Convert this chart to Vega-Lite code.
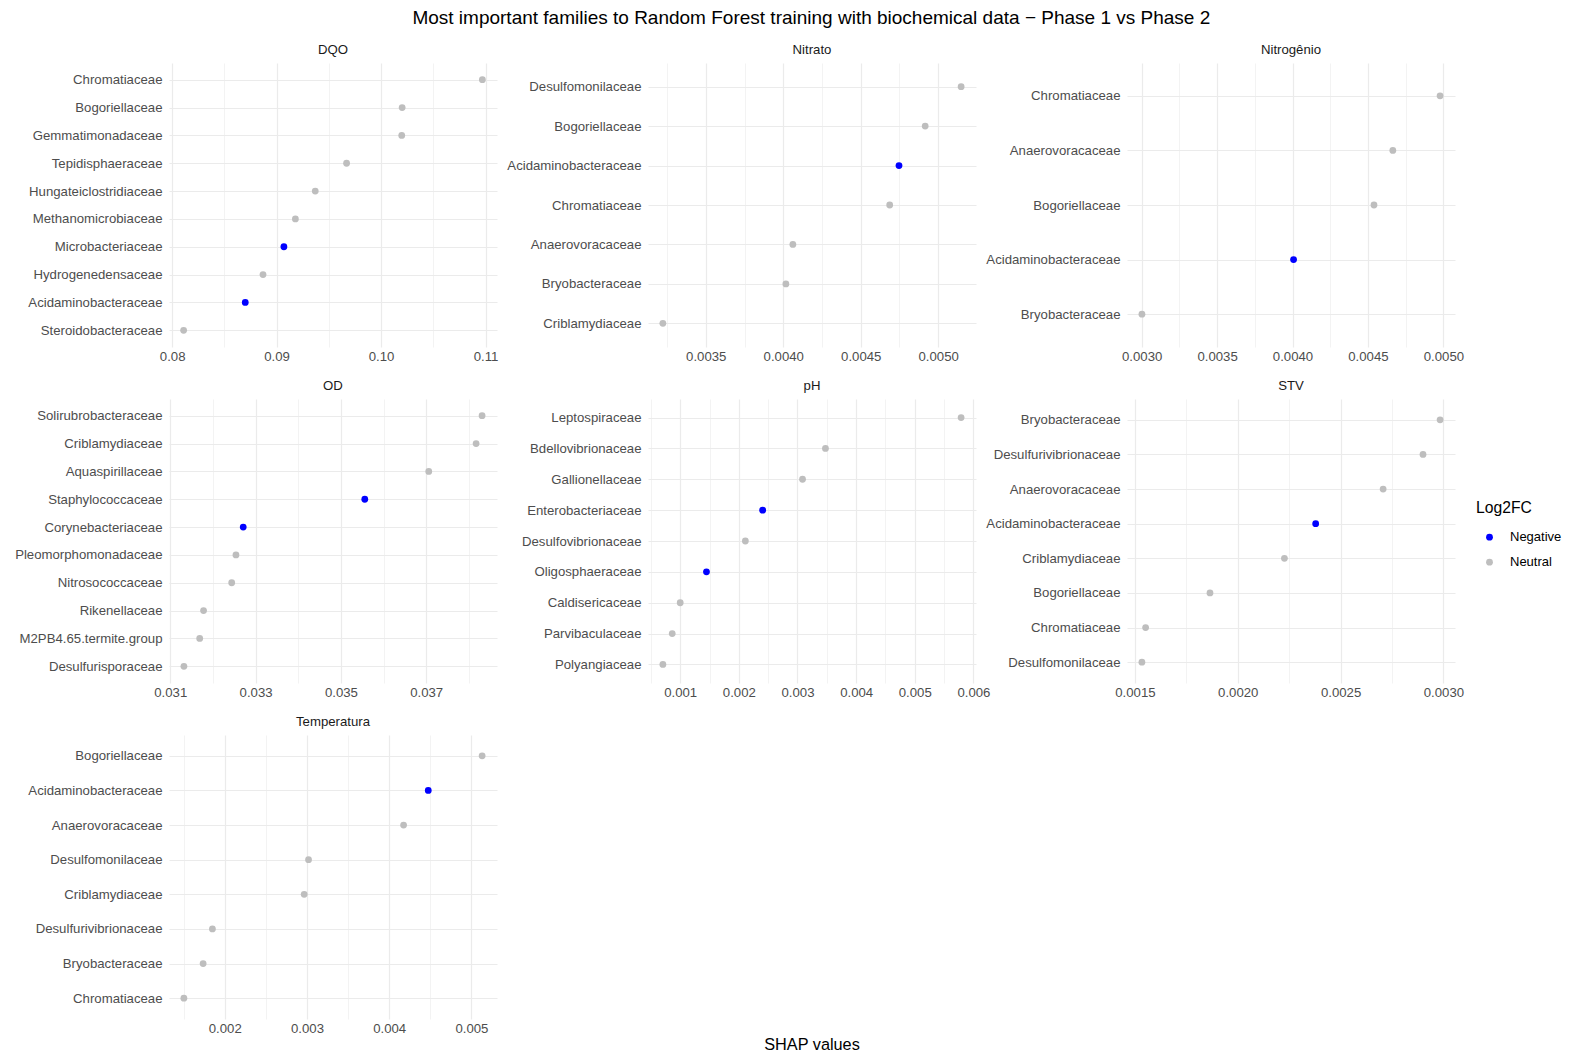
{
  "$schema": "https://vega.github.io/schema/vega-lite/v6.json",
  "padding": {"left": 14, "top": 8, "right": 5, "bottom": 5},
  "background": "white",
  "title": {"text": "Most important families to Random Forest training with biochemical data − Phase 1 vs Phase 2", "fontSize": 19, "color": "#000000", "anchor": "middle", "frame": "bounds", "dx": 23, "offset": 15},
  "datasets": {
    "d": [
      {"panel": "DQO", "family": "Chromatiaceae", "shap": 0.1097, "log2fc": "Neutral"},
      {"panel": "DQO", "family": "Bogoriellaceae", "shap": 0.10202, "log2fc": "Neutral"},
      {"panel": "DQO", "family": "Gemmatimonadaceae", "shap": 0.10198, "log2fc": "Neutral"},
      {"panel": "DQO", "family": "Tepidisphaeraceae", "shap": 0.0967, "log2fc": "Neutral"},
      {"panel": "DQO", "family": "Hungateiclostridiaceae", "shap": 0.0937, "log2fc": "Neutral"},
      {"panel": "DQO", "family": "Methanomicrobiaceae", "shap": 0.0918, "log2fc": "Neutral"},
      {"panel": "DQO", "family": "Microbacteriaceae", "shap": 0.0907, "log2fc": "Negative"},
      {"panel": "DQO", "family": "Hydrogenedensaceae", "shap": 0.0887, "log2fc": "Neutral"},
      {"panel": "DQO", "family": "Acidaminobacteraceae", "shap": 0.0870, "log2fc": "Negative"},
      {"panel": "DQO", "family": "Steroidobacteraceae", "shap": 0.0811, "log2fc": "Neutral"},
      {"panel": "Nitrato", "family": "Desulfomonilaceae", "shap": 0.005148, "log2fc": "Neutral"},
      {"panel": "Nitrato", "family": "Bogoriellaceae", "shap": 0.004916, "log2fc": "Neutral"},
      {"panel": "Nitrato", "family": "Acidaminobacteraceae", "shap": 0.004747, "log2fc": "Negative"},
      {"panel": "Nitrato", "family": "Chromatiaceae", "shap": 0.004687, "log2fc": "Neutral"},
      {"panel": "Nitrato", "family": "Anaerovoracaceae", "shap": 0.004062, "log2fc": "Neutral"},
      {"panel": "Nitrato", "family": "Bryobacteraceae", "shap": 0.004017, "log2fc": "Neutral"},
      {"panel": "Nitrato", "family": "Criblamydiaceae", "shap": 0.003223, "log2fc": "Neutral"},
      {"panel": "Nitrogênio", "family": "Chromatiaceae", "shap": 0.004978, "log2fc": "Neutral"},
      {"panel": "Nitrogênio", "family": "Anaerovoracaceae", "shap": 0.004665, "log2fc": "Neutral"},
      {"panel": "Nitrogênio", "family": "Bogoriellaceae", "shap": 0.004540, "log2fc": "Neutral"},
      {"panel": "Nitrogênio", "family": "Acidaminobacteraceae", "shap": 0.004007, "log2fc": "Negative"},
      {"panel": "Nitrogênio", "family": "Bryobacteraceae", "shap": 0.003002, "log2fc": "Neutral"},
      {"panel": "OD", "family": "Solirubrobacteraceae", "shap": 0.03831, "log2fc": "Neutral"},
      {"panel": "OD", "family": "Criblamydiaceae", "shap": 0.03817, "log2fc": "Neutral"},
      {"panel": "OD", "family": "Aquaspirillaceae", "shap": 0.03706, "log2fc": "Neutral"},
      {"panel": "OD", "family": "Staphylococcaceae", "shap": 0.03556, "log2fc": "Negative"},
      {"panel": "OD", "family": "Corynebacteriaceae", "shap": 0.03271, "log2fc": "Negative"},
      {"panel": "OD", "family": "Pleomorphomonadaceae", "shap": 0.03254, "log2fc": "Neutral"},
      {"panel": "OD", "family": "Nitrosococcaceae", "shap": 0.03244, "log2fc": "Neutral"},
      {"panel": "OD", "family": "Rikenellaceae", "shap": 0.03178, "log2fc": "Neutral"},
      {"panel": "OD", "family": "M2PB4.65.termite.group", "shap": 0.03169, "log2fc": "Neutral"},
      {"panel": "OD", "family": "Desulfurisporaceae", "shap": 0.03132, "log2fc": "Neutral"},
      {"panel": "pH", "family": "Leptospiraceae", "shap": 0.005790, "log2fc": "Neutral"},
      {"panel": "pH", "family": "Bdellovibrionaceae", "shap": 0.003477, "log2fc": "Neutral"},
      {"panel": "pH", "family": "Gallionellaceae", "shap": 0.003086, "log2fc": "Neutral"},
      {"panel": "pH", "family": "Enterobacteriaceae", "shap": 0.002406, "log2fc": "Negative"},
      {"panel": "pH", "family": "Desulfovibrionaceae", "shap": 0.002111, "log2fc": "Neutral"},
      {"panel": "pH", "family": "Oligosphaeraceae", "shap": 0.001448, "log2fc": "Negative"},
      {"panel": "pH", "family": "Caldisericaceae", "shap": 0.001000, "log2fc": "Neutral"},
      {"panel": "pH", "family": "Parvibaculaceae", "shap": 0.000864, "log2fc": "Neutral"},
      {"panel": "pH", "family": "Polyangiaceae", "shap": 0.000705, "log2fc": "Neutral"},
      {"panel": "STV", "family": "Bryobacteraceae", "shap": 0.002984, "log2fc": "Neutral"},
      {"panel": "STV", "family": "Desulfurivibrionaceae", "shap": 0.002901, "log2fc": "Neutral"},
      {"panel": "STV", "family": "Anaerovoracaceae", "shap": 0.002707, "log2fc": "Neutral"},
      {"panel": "STV", "family": "Acidaminobacteraceae", "shap": 0.002379, "log2fc": "Negative"},
      {"panel": "STV", "family": "Criblamydiaceae", "shap": 0.002227, "log2fc": "Neutral"},
      {"panel": "STV", "family": "Bogoriellaceae", "shap": 0.001865, "log2fc": "Neutral"},
      {"panel": "STV", "family": "Chromatiaceae", "shap": 0.001552, "log2fc": "Neutral"},
      {"panel": "STV", "family": "Desulfomonilaceae", "shap": 0.001534, "log2fc": "Neutral"},
      {"panel": "Temperatura", "family": "Bogoriellaceae", "shap": 0.005130, "log2fc": "Neutral"},
      {"panel": "Temperatura", "family": "Acidaminobacteraceae", "shap": 0.004475, "log2fc": "Negative"},
      {"panel": "Temperatura", "family": "Anaerovoracaceae", "shap": 0.004175, "log2fc": "Neutral"},
      {"panel": "Temperatura", "family": "Desulfomonilaceae", "shap": 0.003019, "log2fc": "Neutral"},
      {"panel": "Temperatura", "family": "Criblamydiaceae", "shap": 0.002966, "log2fc": "Neutral"},
      {"panel": "Temperatura", "family": "Desulfurivibrionaceae", "shap": 0.001850, "log2fc": "Neutral"},
      {"panel": "Temperatura", "family": "Bryobacteraceae", "shap": 0.001737, "log2fc": "Neutral"},
      {"panel": "Temperatura", "family": "Chromatiaceae", "shap": 0.001503, "log2fc": "Neutral"}
    ]
  },
  "columns": 3,
  "bounds": "flush",
  "spacing": {"row": 52, "column": 151},
  "resolve": {"scale": {"color": "shared"}, "legend": {"color": "shared"}},
  "concat": [
    {
      "title": "DQO", "width": 328, "height": 284,
      "data": {"name": "d"},
      "transform": [{"filter": "datum.panel === 'DQO'"}],
      "mark": {"type": "point", "filled": true, "size": 46, "opacity": 1},
      "encoding": {
        "x": {"field": "shap", "type": "quantitative", "title": null,
          "scale": {"domain": [0.0797, 0.1111], "nice": false, "zero": false},
          "axis": {"values": [0.08, 0.085, 0.09, 0.095, 0.1, 0.105, 0.11], "format": ".2f",
            "labelExpr": "abs(datum.value*100 - round(datum.value*100)) < 0.001 ? datum.label : ''",
            "gridWidth": {"condition": {"test": "abs(datum.value*100 - round(datum.value*100)) < 0.001", "value": 1.2}, "value": 0.6}}},
        "y": {"field": "family", "type": "nominal", "title": null, "sort": "-x", "scale": {"padding": 0.6}, "axis": {"grid": true}},
        "color": {"field": "log2fc", "type": "nominal", "scale": {"domain": ["Negative", "Neutral"], "range": ["#0000FF", "#BEBEBE"]}, "legend": {"title": "Log2FC"}}
      }
    },
    {
      "title": "Nitrato", "width": 328, "height": 284,
      "data": {"name": "d"},
      "transform": [{"filter": "datum.panel === 'Nitrato'"}],
      "mark": {"type": "point", "filled": true, "size": 46, "opacity": 1},
      "encoding": {
        "x": {"field": "shap", "type": "quantitative", "title": null,
          "scale": {"domain": [0.003127, 0.005244], "nice": false, "zero": false},
          "axis": {"values": [0.00325, 0.0035, 0.00375, 0.004, 0.00425, 0.0045, 0.00475, 0.005], "format": ".4f",
            "labelExpr": "abs(datum.value*2000 - round(datum.value*2000)) < 0.001 ? datum.label : ''",
            "gridWidth": {"condition": {"test": "abs(datum.value*2000 - round(datum.value*2000)) < 0.001", "value": 1.2}, "value": 0.6}}},
        "y": {"field": "family", "type": "nominal", "title": null, "sort": "-x", "scale": {"padding": 0.6}, "axis": {"grid": true}},
        "color": {"field": "log2fc", "type": "nominal", "scale": {"domain": ["Negative", "Neutral"], "range": ["#0000FF", "#BEBEBE"]}, "legend": {"title": "Log2FC"}}
      }
    },
    {
      "title": "Nitrogênio", "width": 328, "height": 284,
      "data": {"name": "d"},
      "transform": [{"filter": "datum.panel === 'Nitrogênio'"}],
      "mark": {"type": "point", "filled": true, "size": 46, "opacity": 1},
      "encoding": {
        "x": {"field": "shap", "type": "quantitative", "title": null,
          "scale": {"domain": [0.002903, 0.005077], "nice": false, "zero": false},
          "axis": {"values": [0.003, 0.00325, 0.0035, 0.00375, 0.004, 0.00425, 0.0045, 0.00475, 0.005], "format": ".4f",
            "labelExpr": "abs(datum.value*2000 - round(datum.value*2000)) < 0.001 ? datum.label : ''",
            "gridWidth": {"condition": {"test": "abs(datum.value*2000 - round(datum.value*2000)) < 0.001", "value": 1.2}, "value": 0.6}}},
        "y": {"field": "family", "type": "nominal", "title": null, "sort": "-x", "scale": {"padding": 0.6}, "axis": {"grid": true}},
        "color": {"field": "log2fc", "type": "nominal", "scale": {"domain": ["Negative", "Neutral"], "range": ["#0000FF", "#BEBEBE"]}, "legend": {"title": "Log2FC"}}
      }
    },
    {
      "title": "OD", "width": 328, "height": 284,
      "data": {"name": "d"},
      "transform": [{"filter": "datum.panel === 'OD'"}],
      "mark": {"type": "point", "filled": true, "size": 46, "opacity": 1},
      "encoding": {
        "x": {"field": "shap", "type": "quantitative", "title": null,
          "scale": {"domain": [0.03097, 0.03866], "nice": false, "zero": false},
          "axis": {"values": [0.031, 0.032, 0.033, 0.034, 0.035, 0.036, 0.037, 0.038], "format": ".3f",
            "labelExpr": "indexof(['0.031','0.033','0.035','0.037'], datum.label) >= 0 ? datum.label : ''",
            "gridWidth": {"condition": {"test": "indexof(['0.031','0.033','0.035','0.037'], format(datum.value, '.3f')) >= 0", "value": 1.2}, "value": 0.6}}},
        "y": {"field": "family", "type": "nominal", "title": null, "sort": "-x", "scale": {"padding": 0.6}, "axis": {"grid": true}},
        "color": {"field": "log2fc", "type": "nominal", "scale": {"domain": ["Negative", "Neutral"], "range": ["#0000FF", "#BEBEBE"]}, "legend": {"title": "Log2FC"}}
      }
    },
    {
      "title": "pH", "width": 328, "height": 284,
      "data": {"name": "d"},
      "transform": [{"filter": "datum.panel === 'pH'"}],
      "mark": {"type": "point", "filled": true, "size": 46, "opacity": 1},
      "encoding": {
        "x": {"field": "shap", "type": "quantitative", "title": null,
          "scale": {"domain": [0.000451, 0.006044], "nice": false, "zero": false},
          "axis": {"values": [0.0005, 0.001, 0.0015, 0.002, 0.0025, 0.003, 0.0035, 0.004, 0.0045, 0.005, 0.0055, 0.006], "format": ".3f",
            "labelExpr": "abs(datum.value*1000 - round(datum.value*1000)) < 0.001 ? datum.label : ''",
            "gridWidth": {"condition": {"test": "abs(datum.value*1000 - round(datum.value*1000)) < 0.001", "value": 1.2}, "value": 0.6}}},
        "y": {"field": "family", "type": "nominal", "title": null, "sort": "-x", "scale": {"padding": 0.6}, "axis": {"grid": true}},
        "color": {"field": "log2fc", "type": "nominal", "scale": {"domain": ["Negative", "Neutral"], "range": ["#0000FF", "#BEBEBE"]}, "legend": {"title": "Log2FC"}}
      }
    },
    {
      "title": "STV", "width": 328, "height": 284,
      "data": {"name": "d"},
      "transform": [{"filter": "datum.panel === 'STV'"}],
      "mark": {"type": "point", "filled": true, "size": 46, "opacity": 1},
      "encoding": {
        "x": {"field": "shap", "type": "quantitative", "title": null,
          "scale": {"domain": [0.0014615, 0.0030565], "nice": false, "zero": false},
          "axis": {"values": [0.0015, 0.00175, 0.002, 0.00225, 0.0025, 0.00275, 0.003], "format": ".4f",
            "labelExpr": "abs(datum.value*2000 - round(datum.value*2000)) < 0.001 ? datum.label : ''",
            "gridWidth": {"condition": {"test": "abs(datum.value*2000 - round(datum.value*2000)) < 0.001", "value": 1.2}, "value": 0.6}}},
        "y": {"field": "family", "type": "nominal", "title": null, "sort": "-x", "scale": {"padding": 0.6}, "axis": {"grid": true}},
        "color": {"field": "log2fc", "type": "nominal", "scale": {"domain": ["Negative", "Neutral"], "range": ["#0000FF", "#BEBEBE"]}, "legend": {"title": "Log2FC"}}
      }
    },
    {
      "title": "Temperatura", "width": 328, "height": 284,
      "data": {"name": "d"},
      "transform": [{"filter": "datum.panel === 'Temperatura'"}],
      "mark": {"type": "point", "filled": true, "size": 46, "opacity": 1},
      "encoding": {
        "x": {"field": "shap", "type": "quantitative", "title": null,
          "scale": {"domain": [0.001322, 0.005311], "nice": false, "zero": false},
          "axis": {"values": [0.0015, 0.002, 0.0025, 0.003, 0.0035, 0.004, 0.0045, 0.005], "format": ".3f",
            "labelExpr": "abs(datum.value*1000 - round(datum.value*1000)) < 0.001 ? datum.label : ''",
            "gridWidth": {"condition": {"test": "abs(datum.value*1000 - round(datum.value*1000)) < 0.001", "value": 1.2}, "value": 0.6}}},
        "y": {"field": "family", "type": "nominal", "title": null, "sort": "-x", "scale": {"padding": 0.6}, "axis": {"grid": true}},
        "color": {"field": "log2fc", "type": "nominal", "scale": {"domain": ["Negative", "Neutral"], "range": ["#0000FF", "#BEBEBE"]}, "legend": {"title": "Log2FC"}}
      }
    },
    {
      "title": {"text": "SHAP values", "orient": "bottom", "fontSize": 16.3, "color": "#000000", "offset": 18},
      "width": 328, "height": 284,
      "data": {"name": "d"},
      "transform": [{"filter": "false"}],
      "mark": {"type": "point", "filled": true, "size": 46},
      "encoding": {
        "x": {"field": "shap", "type": "quantitative", "axis": null},
        "y": {"field": "family", "type": "nominal", "axis": null}
      }
    }
  ],
  "config": {
    "font": "Liberation Sans",
    "view": {"stroke": null},
    "axis": {"domain": false, "ticks": false, "labelColor": "#4D4D4D", "labelFontSize": 13.2, "gridColor": "#EBEBEB", "labelFont": "Liberation Sans"},
    "axisX": {"labelPadding": 3, "labelFlush": false},
    "axisY": {"labelPadding": 7, "gridWidth": 1.2, "grid": true},
    "title": {"fontSize": 13.2, "fontWeight": "normal", "color": "#1A1A1A", "offset": 6, "frame": "group", "anchor": "middle", "font": "Liberation Sans"},
    "legend": {"orient": "none", "legendX": 1307, "legendY": 438, "titleFontSize": 15.7, "titleFontWeight": "normal", "titleColor": "#000000", "labelFontSize": 13, "labelColor": "#000000", "symbolSize": 46, "symbolOffset": 7, "labelOffset": 14, "rowPadding": 11, "titlePadding": 14}
  }
}
